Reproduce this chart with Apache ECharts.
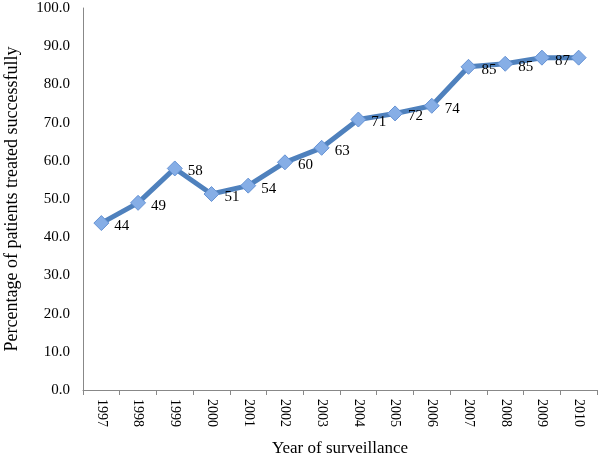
<!DOCTYPE html>
<html><head><meta charset="utf-8">
<script src="https://cdn.jsdelivr.net/npm/echarts@6/dist/echarts.min.js"></script>
<style>html,body{margin:0;padding:0;background:#fff}#c{width:600px;height:458px}</style>
</head><body><div id="c"></div>
<script>
const years = ['1997','1998','1999','2000','2001','2002','2003','2004','2005','2006','2007','2008','2009','2010'];
const success = [43.7, 49.0, 58.0, 51.3, 53.5, 59.6, 63.4, 70.8, 72.4, 74.4, 84.6, 85.4, 87.0, 87.0];
const yTicks = [0, 10, 20, 30, 40, 50, 60, 70, 80, 90, 100];
const font = 'Liberation Serif';
const chart = echarts.init(document.getElementById('c'));
chart.setOption({
  animation: false,
  grid: {left: 83, right: 3, top: 8, bottom: 68, containLabel: false, outerBoundsMode: 'none'},
  xAxis: {
    type: 'category', data: years, boundaryGap: true,
    name: 'Year of surveillance', nameLocation: 'middle', nameGap: 50,
    nameTextStyle: {fontFamily: font, fontSize: 17, color: '#000'},
    axisLine: {lineStyle: {color: '#888', width: 1}},
    axisTick: {show: true, length: 5, lineStyle: {color: '#888'}},
    axisLabel: {rotate: -90, fontFamily: font, fontSize: 14, color: '#000', margin: 9}
  },
  yAxis: {
    type: 'value', min: yTicks[0], max: yTicks[yTicks.length-1], interval: 10,
    name: 'Percentage of patients treated successfully', nameLocation: 'middle', nameGap: 62,
    nameTextStyle: {fontFamily: font, fontSize: 18, color: '#000'},
    axisLine: {show: true, lineStyle: {color: '#888', width: 1}},
    axisTick: {show: false},
    splitLine: {show: false},
    axisLabel: {fontFamily: font, fontSize: 15, color: '#000', margin: 13, formatter: v => v.toFixed(1)}
  },
  series: [{
    type: 'line', data: success,
    symbol: 'diamond', symbolSize: 15,
    lineStyle: {color: '#4F81BD', width: 5},
    itemStyle: {color: '#86AEE6', borderColor: '#6592D4', borderWidth: 1},
    label: {show: true, position: 'right', distance: 5, offset: [0, 3], fontFamily: font, fontSize: 15, color: '#000',
      formatter: p => p.dataIndex === success.length - 1 ? '' : Math.round(p.value)}
  }]
});
</script></body></html>
